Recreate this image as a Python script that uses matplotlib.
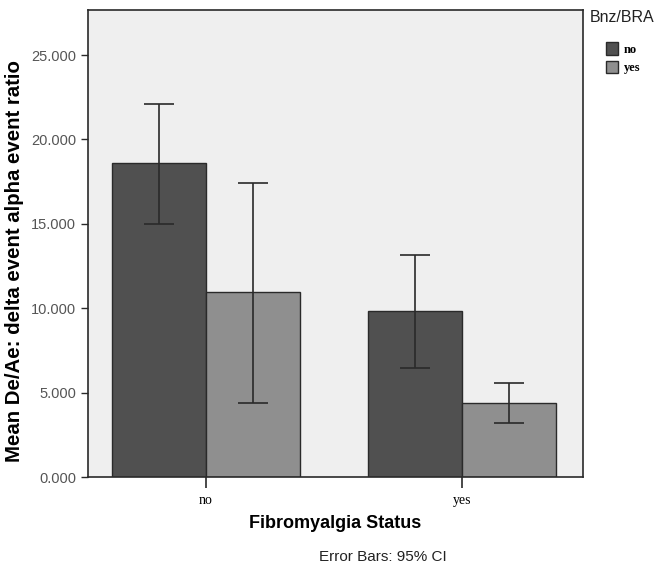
import matplotlib
matplotlib.use("Agg")
import matplotlib.pyplot as plt
import numpy as np
from matplotlib.patches import Patch

groups = ["no", "yes"]
series = ["no", "yes"]
means = {"no": [18.6, 9.83], "yes": [10.96, 4.38]}
ci_low = {"no": [15.0, 6.46], "yes": [4.4, 3.2]}
ci_high = {"no": [22.1, 13.15], "yes": [17.45, 5.55]}
colors = {"no": "#505050", "yes": "#8f8f8f"}
yticks = [0, 5, 10, 15, 20, 25]

fig = plt.figure(figsize=(6.58, 5.72), dpi=100)
ax = fig.add_axes([0.1337, 0.166, 0.752, 0.8165])
ax.set_facecolor("#efefef")

x = np.arange(len(groups))
w = 0.367
for i, s in enumerate(series):
    xs = x + (i - 0.5) * w
    m = np.array(means[s])
    lo = m - np.array(ci_low[s])
    hi = np.array(ci_high[s]) - m
    ax.bar(xs, m, width=w, color=colors[s], edgecolor="#2a2a2a", linewidth=1.0, zorder=2)
    ax.errorbar(xs, m, yerr=[lo, hi], fmt="none", ecolor="#2a2a2a", elinewidth=1.2,
                capsize=11, capthick=1.2, zorder=3)

ax.set_xlim(-0.461, 1.473)
ax.set_ylim(0, 27.67)
ax.set_xticks(x)
ax.set_xticklabels(groups, family="Liberation Serif", fontsize=10)
ax.set_yticks(yticks)
ax.set_yticklabels([f"{v:.3f}" for v in yticks], family="Liberation Sans", fontsize=10.5, color="#555555")
ax.tick_params(axis="x", length=8, width=1.2, color="#2a2a2a", pad=4)
ax.tick_params(axis="y", length=5, width=1.0, color="#2a2a2a")
for sp in ax.spines.values():
    sp.set_color("#2a2a2a")
    sp.set_linewidth(1.2)

ax.set_ylabel("Mean De/Ae: delta event alpha event ratio", family="Liberation Sans",
              fontsize=14.7, fontweight="bold")
ax.yaxis.set_label_coords(-0.129, 0.4626)
ax.set_xlabel("Fibromyalgia Status", family="Liberation Sans", fontsize=13,
              fontweight="bold", labelpad=6)

fig.text(0.582, 0.026, "Error Bars: 95% CI", family="Liberation Sans", fontsize=11,
         ha="center", va="center", color="#222222")

fig.text(0.897, 0.982, "Bnz/BRA", family="Liberation Sans", fontsize=11.5,
         ha="left", va="top", color="#222222")
handles = [Patch(facecolor=colors[s], edgecolor="#2a2a2a", label=s) for s in series]
leg = fig.legend(handles=handles, loc="upper left",
                 bbox_to_anchor=(0.912, 0.937), frameon=False,
                 prop={"family": "Liberation Serif", "size": 9, "weight": "bold"},
                 handlelength=0.9, handleheight=1.15, handletextpad=0.5,
                 labelspacing=0.4, borderpad=0.0)

fig.savefig("out.png", dpi=100, facecolor="white")
